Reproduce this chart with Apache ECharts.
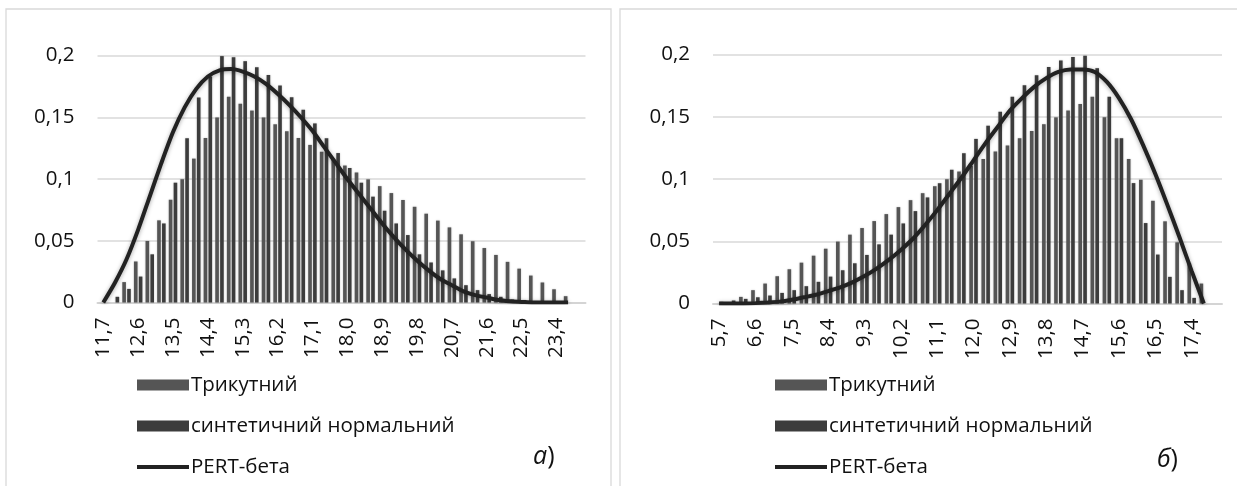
<!DOCTYPE html>
<html>
<head>
<meta charset="utf-8">
<script src="https://cdn.jsdelivr.net/npm/echarts@6/dist/echarts.min.js"></script>
<style>
html,body{margin:0;padding:0;background:#fff;}
#c{width:1237px;height:486px;}
</style>
</head>
<body>
<div id="c"></div>
<script>
const leftCats = ['11,7','12,0','12,3','12,6','12,9','13,2','13,5','13,8','14,1','14,4','14,7','15,0','15,3','15,6','15,9','16,2','16,5','16,8','17,1','17,4','17,7','18,0','18,3','18,6','18,9','19,2','19,5','19,8','20,1','20,4','20,7','21,0','21,3','21,6','21,9','22,2','22,5','22,8','23,1','23,4','23,7','24,0'];
const leftTri = [0,0,0.0165,0.0332,0.0498,0.0665,0.0832,0.0998,0.1165,0.1332,0.1498,0.1665,0.161,0.1554,0.1498,0.1443,0.1387,0.1331,0.1276,0.122,0.1164,0.1109,0.1053,0.0997,0.0942,0.0886,0.083,0.0775,0.0719,0.0663,0.0608,0.0552,0.0496,0.0441,0.0385,0.0329,0.0274,0.0218,0.0162,0.0107,0.0051,0];
const leftSyn = [0,0.0046,0.011,0.021,0.039,0.064,0.097,0.133,0.166,0.183,0.1995,0.1986,0.1954,0.1905,0.1843,0.1757,0.1662,0.156,0.145,0.133,0.121,0.109,0.097,0.0857,0.0743,0.064,0.0546,0.039,0.0324,0.026,0.0195,0.014,0.01,0.0068,0.0046,0.0024,0.0019,0.001,0.0005,0.0003,0,0];
const leftPert = [0,0.016,0.035,0.059,0.086,0.113,0.138,0.158,0.173,0.183,0.188,0.189,0.187,0.183,0.177,0.169,0.160,0.150,0.139,0.126,0.113,0.100,0.088,0.076,0.064,0.053,0.043,0.034,0.026,0.019,0.014,0.009,0.006,0.004,0.002,0.001,0.0005,0,0,0,0,null];

const rightCats = ['5,7','6,0','6,3','6,6','6,9','7,2','7,5','7,8','8,1','8,4','8,7','9,0','9,3','9,6','9,9','10,2','10,5','10,8','11,1','11,4','11,7','12,0','12,3','12,6','12,9','13,2','13,5','13,8','14,1','14,4','14,7','15,0','15,3','15,6','15,9','16,2','16,5','16,8','17,1','17,4','17,7','18,0'];
const rightTri = [0,0,0.0053,0.0107,0.016,0.0219,0.0275,0.0328,0.0384,0.044,0.0497,0.0553,0.0606,0.0662,0.0718,0.0774,0.083,0.0886,0.0942,0.0998,0.106,0.1105,0.1161,0.122,0.127,0.1327,0.1386,0.144,0.1495,0.155,0.1602,0.1661,0.1495,0.1327,0.116,0.0994,0.0825,0.066,0.0491,0.0325,0.016,0];
const rightSyn = [0.0013,0.0024,0.0037,0.005,0.0064,0.0085,0.0107,0.0139,0.0174,0.0216,0.0267,0.0323,0.039,0.0475,0.0553,0.0643,0.0742,0.0852,0.0966,0.1074,0.1207,0.1322,0.1428,0.154,0.166,0.1754,0.1834,0.19,0.1952,0.198,0.199,0.189,0.166,0.1327,0.0967,0.0646,0.0393,0.0214,0.0107,0.0045,0,0];
const rightPert = [0,0,0,0.0003,0.0008,0.0015,0.003,0.005,0.007,0.01,0.013,0.017,0.022,0.028,0.035,0.043,0.052,0.063,0.075,0.088,0.101,0.115,0.129,0.142,0.155,0.165,0.174,0.181,0.186,0.188,0.188,0.186,0.178,0.165,0.148,0.127,0.104,0.079,0.053,0.026,0,null];

const seriesNames = ['Трикутний','синтетичний нормальний','PERT-бета'];
const panelLabels = ['а', 'б'];

const FONT = '"Open Sans", "Noto Sans", sans-serif';
const FS = 20.5;
const TRI_COLOR = '#555555';
const SYN_COLOR = '#3c3c3c';
const LINE_COLOR = '#222222';

const chart = echarts.init(document.getElementById('c'), null, {renderer: 'canvas'});

function yFmt(v){ return String(+v.toFixed(2)).replace('.', ','); }

function xAxis(idx, cats){
  return {
    type: 'category', gridIndex: idx, data: cats, boundaryGap: true,
    axisLine: {show: true, lineStyle: {color: '#d4d4d4', width: 2}},
    axisTick: {show: false},
    axisLabel: {interval: 2, rotate: 90, margin: 15, color: '#111', fontFamily: FONT, fontSize: FS}
  };
}
function yAxis(idx){
  return {
    type: 'value', gridIndex: idx, min: 0, max: 0.2, interval: 0.05,
    axisLine: {show: false}, axisTick: {show: false},
    splitLine: {show: true, lineStyle: {color: '#d9d9d9', width: 1.5}},
    axisLabel: {formatter: yFmt, color: '#111', fontFamily: FONT, fontSize: FS, margin: 23, align: 'right'}
  };
}
function bars(idx, name, data, color){
  return {
    type: 'bar', name: name, xAxisIndex: idx, yAxisIndex: idx, data: data,
    barWidth: 3.6, barGap: '35%', itemStyle: {color: color, shadowBlur: 2, shadowColor: 'rgba(0,0,0,0.25)'},
    animation: false
  };
}
function line(idx, data){
  return {
    type: 'line', name: seriesNames[2], xAxisIndex: idx, yAxisIndex: idx, data: data,
    symbol: 'none', smooth: 0.25, connectNulls: false,
    lineStyle: {color: LINE_COLOR, width: 4, shadowBlur: 4, shadowColor: 'rgba(0,0,0,0.35)', shadowOffsetY: 1},
    itemStyle: {color: LINE_COLOR},
    animation: false, z: 3
  };
}
function legend(left){
  return {
    orient: 'vertical', left: left, top: 373, itemWidth: 52, itemHeight: 11, itemGap: 17,
    padding: 0,
    textStyle: {fontFamily: FONT, fontSize: FS, color: '#111', lineHeight: 24, padding: [0,0,0,-3]},
    selectedMode: false,
    data: [
      {name: seriesNames[0], icon: 'rect'},
      {name: seriesNames[1], icon: 'rect'},
      {name: seriesNames[2], itemStyle: {opacity: 0}, lineStyle: {width: 4, color: LINE_COLOR, shadowBlur: 0}}
    ]
  };
}
function panelLabel(i, left, top){
  return {type: 'text', left: left, top: top, style: {
    text: '{i|' + panelLabels[i] + '}{n|)}',
    rich: {i: {fontFamily: FONT, fontStyle: 'italic', fontSize: 25, fill: '#111'}, n: {fontFamily: FONT, fontSize: 25, fill: '#111'}}
  }};
}

const option = {
  backgroundColor: '#ffffff',
  animation: false,
  grid: [
    {left: 97.5, width: 488, top: 55.5, height: 247},
    {left: 713, width: 509, top: 54.5, height: 249}
  ],
  xAxis: [xAxis(0, leftCats), xAxis(1, rightCats)],
  yAxis: [yAxis(0), yAxis(1)],
  legend: [legend(135), legend(773)],
  series: [
    bars(0, seriesNames[0], leftTri, TRI_COLOR),
    bars(0, seriesNames[1], leftSyn, SYN_COLOR),
    line(0, leftPert),
    bars(1, seriesNames[0], rightTri, TRI_COLOR),
    bars(1, seriesNames[1], rightSyn, SYN_COLOR),
    line(1, rightPert)
  ],
  graphic: [
    {type: 'rect', shape: {x: 6, y: 9, width: 605, height: 500}, style: {fill: 'none', stroke: '#d9d9d9', lineWidth: 1.3}, silent: true, z: -1},
    {type: 'rect', shape: {x: 620, y: 9, width: 640, height: 500}, style: {fill: 'none', stroke: '#d9d9d9', lineWidth: 1.3}, silent: true, z: -1},
    panelLabel(0, 533, 444),
    panelLabel(1, 1157, 447)
  ]
};
chart.setOption(option);
</script>
</body>
</html>
